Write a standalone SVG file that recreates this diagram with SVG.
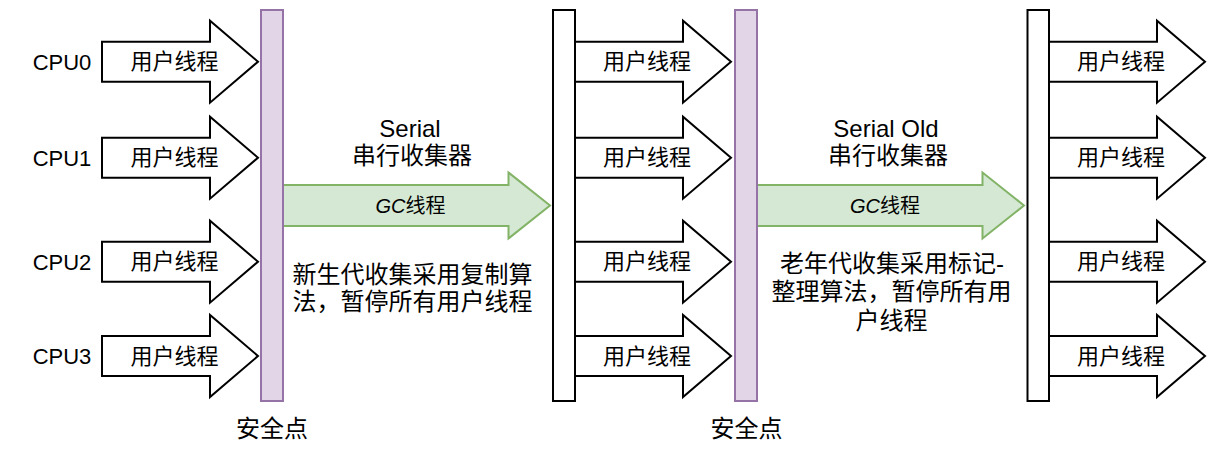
<svg xmlns="http://www.w3.org/2000/svg" xmlns:xlink="http://www.w3.org/1999/xlink" width="1216" height="450" viewBox="0 0 1216 450">
  <style>
    text { font-family: "Liberation Sans", "Noto Sans CJK SC", sans-serif; fill: #000; text-anchor: middle; dominant-baseline: central; }
    .cpu { font-size: 22px; }
    .lbl { font-size: 22px; }
    .big { font-size: 24px; }
    .gc { font-size: 20px; }
    .gc tspan.lat { font-style: italic; }
    .user { fill: #fff; stroke: #000; stroke-width: 2; stroke-linejoin: miter; }
    .gcarrow { fill: #d5e8d4; stroke: #82b366; stroke-width: 2; }
    .safe { fill: #e1d5e7; stroke: #9673a6; stroke-width: 2; }
    .wall { fill: #fff; stroke: #000; stroke-width: 2; }
  </style>
  <defs>
    <!-- user-thread block arrow, origin at left middle of the body -->
    <path id="ua" d="M0,-20 H108 V-41 L156,0 L108,41 V20 H0 Z"/>
    <!-- GC-thread block arrow -->
    <path id="ga" d="M0,-20.5 H225.5 V-33 L267,0 L225.5,33 V20.5 H0 Z"/>
  </defs>

  <!-- CPU labels -->
  <g id="cpu-labels">
    <text class="cpu" x="62" y="62">CPU0</text>
    <text class="cpu" x="62" y="158">CPU1</text>
    <text class="cpu" x="62" y="262">CPU2</text>
    <text class="cpu" x="62" y="356">CPU3</text>
  </g>

  <!-- first phase: user threads running -->
  <g id="user-threads-1">
    <g id="u1-0"><use href="#ua" class="user" x="102" y="61.7"/><text class="lbl" x="174.5" y="61.7">用户线程</text></g>
    <g id="u1-1"><use href="#ua" class="user" x="102" y="157.7"/><text class="lbl" x="174.5" y="157.7">用户线程</text></g>
    <g id="u1-2"><use href="#ua" class="user" x="102" y="261.7"/><text class="lbl" x="174.5" y="261.7">用户线程</text></g>
    <g id="u1-3"><use href="#ua" class="user" x="102" y="356"/><text class="lbl" x="174.5" y="356">用户线程</text></g>
  </g>

  <!-- second phase: user threads between the two GC pauses -->
  <g id="user-threads-2">
    <g id="u2-0"><use href="#ua" class="user" x="575" y="61.7"/><text class="lbl" x="647" y="61.7">用户线程</text></g>
    <g id="u2-1"><use href="#ua" class="user" x="575" y="157.7"/><text class="lbl" x="647" y="157.7">用户线程</text></g>
    <g id="u2-2"><use href="#ua" class="user" x="575" y="261.7"/><text class="lbl" x="647" y="261.7">用户线程</text></g>
    <g id="u2-3"><use href="#ua" class="user" x="575" y="356"/><text class="lbl" x="647" y="356">用户线程</text></g>
  </g>

  <!-- third phase: user threads after old-generation GC -->
  <g id="user-threads-3">
    <g id="u3-0"><use href="#ua" class="user" x="1049" y="61.7"/><text class="lbl" x="1121" y="61.7">用户线程</text></g>
    <g id="u3-1"><use href="#ua" class="user" x="1049" y="157.7"/><text class="lbl" x="1121" y="157.7">用户线程</text></g>
    <g id="u3-2"><use href="#ua" class="user" x="1049" y="261.7"/><text class="lbl" x="1121" y="261.7">用户线程</text></g>
    <g id="u3-3"><use href="#ua" class="user" x="1049" y="356"/><text class="lbl" x="1121" y="356">用户线程</text></g>
  </g>

  <!-- GC threads -->
  <g id="connectors">
    <g id="gc-young">
      <use href="#ga" class="gcarrow" x="283" y="205.5"/>
      <text class="gc" x="410.5" y="205.5"><tspan class="lat">GC</tspan>线程</text>
    </g>
    <g id="gc-old">
      <use href="#ga" class="gcarrow" x="757" y="205.5"/>
      <text class="gc" x="885" y="205.5"><tspan class="lat">GC</tspan>线程</text>
    </g>
  </g>

  <!-- safepoint bars and thread barriers -->
  <g id="safepoint-1">
    <rect class="safe" x="261" y="10" width="22" height="391"/>
    <text class="big" x="272" y="428">安全点</text>
  </g>
  <g id="barrier-2">
    <rect class="wall" x="553" y="10" width="22" height="391"/>
  </g>
  <g id="safepoint-2">
    <rect class="safe" x="735" y="10" width="22" height="391"/>
    <text class="big" x="746.5" y="428">安全点</text>
  </g>
  <g id="barrier-3">
    <rect class="wall" x="1027.5" y="10" width="21.5" height="391"/>
  </g>

  <!-- collector descriptions -->
  <g id="serial-label">
    <text class="big" x="410" y="128.5">Serial</text>
    <text class="big" x="412" y="155">串行收集器</text>
  </g>
  <g id="serial-note">
    <text class="big" x="412.5" y="274">新生代收集采用复制算</text>
    <text class="big" x="412.5" y="301.5">法，暂停所有用户线程</text>
  </g>
  <g id="serial-old-label">
    <text class="big" x="886" y="128.5">Serial Old</text>
    <text class="big" x="888" y="155">串行收集器</text>
  </g>
  <g id="serial-old-note">
    <text class="big" x="892" y="263">老年代收集采用标记-</text>
    <text class="big" x="891.5" y="291.7">整理算法，暂停所有用</text>
    <text class="big" x="891.5" y="320">户线程</text>
  </g>
</svg>
